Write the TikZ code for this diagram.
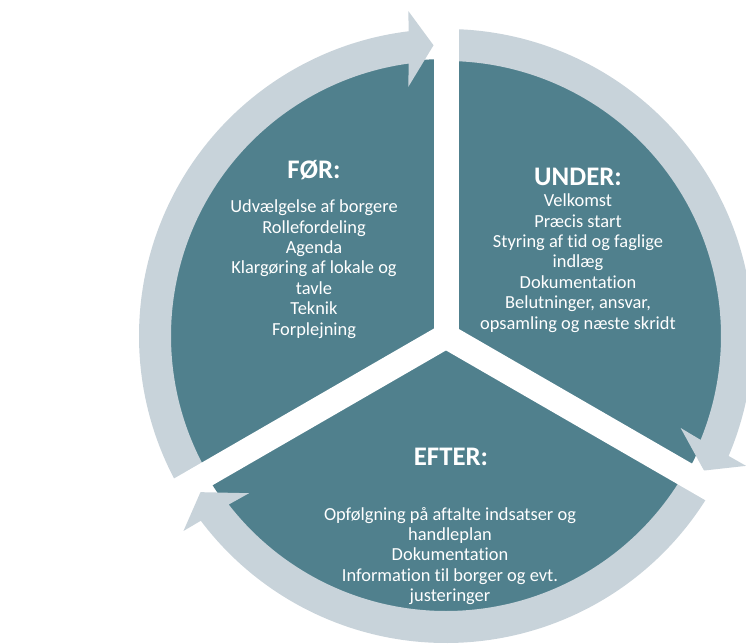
\documentclass[tikz,border=0pt]{standalone}
\usepackage{fontspec}
\setmainfont{Carlito}[Ligatures=NoCommon]
\definecolor{piecol}{RGB}{80,128,141}
\definecolor{ringcol}{RGB}{200,211,218}
\begin{document}
\begin{tikzpicture}[x=1pt,y=1pt,
  bodytext/.style={text=white, align=center, font=\fontsize{18.4}{20.4}\selectfont, inner sep=0pt},
  headtext/.style={text=white, font=\bfseries\fontsize{26.8}{30}\selectfont, inner sep=0pt},
  ringarrow/.style={fill=ringcol}]
\useasboundingbox (-446,-308) rectangle (300,336);
% pie
\fill[piecol] (0,0) circle[radius=277];
% ring arrows (clockwise)
\foreach \r in {0,-120,-240}{
  \path[ringarrow, rotate=\r] (210:275) arc[start angle=210, end angle=97.8, radius=275]
    -- (98.6:252) -- (92.46:291) -- (96.6:327) -- (97.0:307)
    arc[start angle=97.0, end angle=210, radius=307] -- cycle;
}
% gaps
\foreach \g in {90,210,330} \fill[white, rotate=\g] (0,-12.5) rectangle (345,12.5);
% texts
\node[headtext] (forT) at (-132,166) {FØR:};
\node[bodytext] (forB) at (-132,67) {Udvælgelse af borgere\\Rollefordeling\\Agenda\\Klargøring af lokale og\\tavle\\Teknik\\Forplejning};
\node[headtext] (underT) at (132,159) {UNDER:};
\node[bodytext] (underB) at (132,73) {Velkomst\\Præcis start\\Styring af tid og faglige\\indlæg\\Dokumentation\\Belutninger, ansvar,\\opsamling og næste skridt};
\node[headtext] (efterT) at (5,-120.5) {EFTER:};
\node[bodytext] (efterB) at (4,-220) {Opfølgning på aftalte indsatser og\\handleplan\\Dokumentation\\Information til borger og evt.\\justeringer};
\end{tikzpicture}
\end{document}
